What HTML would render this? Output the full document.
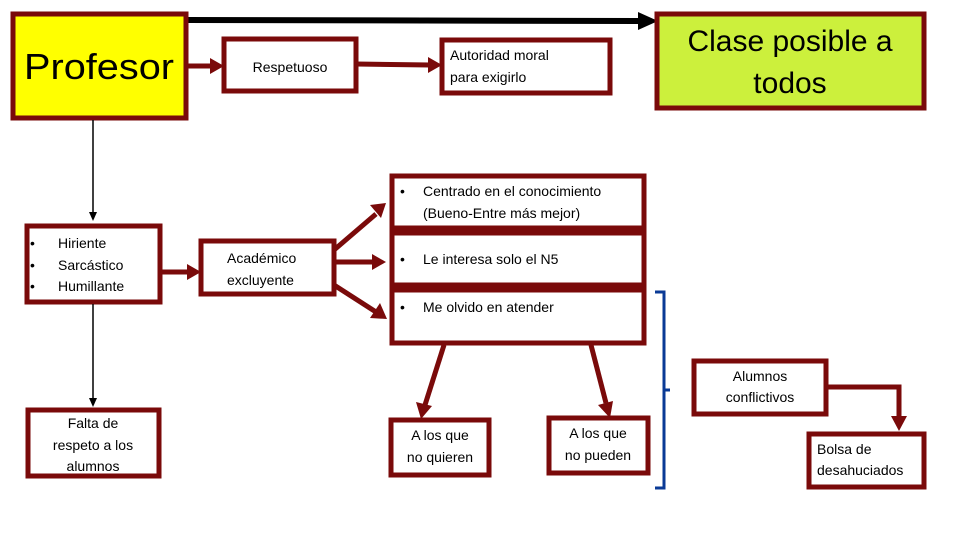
<!DOCTYPE html>
<html><head><meta charset="utf-8"><style>
body{margin:0;background:#fff;}
svg{display:block;font-family:"Liberation Sans",sans-serif;}
.b{fill:#fff;stroke:#7a0a0a;stroke-width:5;}
.a{stroke:#7a0a0a;stroke-width:5;fill:none;}
.h{fill:#7a0a0a;}
text{fill:#000;}
</style></head><body>
<svg width="960" height="540" viewBox="0 0 960 540">
<!-- top black arrow -->
<line x1="188" y1="20" x2="640" y2="21" stroke="#000" stroke-width="6"/>
<polygon points="638,12 658,21 638,30" fill="#000"/>
<!-- boxes -->
<rect x="13" y="14" width="173" height="104" fill="#ffff00" stroke="#7a0a0a" stroke-width="5"/>
<text x="99" y="79" font-size="36" text-anchor="middle" textLength="150" lengthAdjust="spacingAndGlyphs">Profesor</text>
<rect x="224" y="39" width="132" height="52" class="b"/>
<text x="290" y="72" font-size="14" text-anchor="middle">Respetuoso</text>
<rect x="442" y="40" width="168" height="53" class="b"/>
<text x="450" y="60" font-size="14">Autoridad moral</text>
<text x="450" y="82" font-size="14">para exigirlo</text>
<rect x="657" y="14" width="267" height="94" fill="#ccf03c" stroke="#7a0a0a" stroke-width="5"/>
<text x="790" y="51" font-size="30" text-anchor="middle">Clase posible a</text>
<text x="790" y="93" font-size="30" text-anchor="middle">todos</text>
<!-- Profesor arrows -->
<line x1="186" y1="66" x2="212" y2="66" class="a"/><polygon points="210,58 224,66 210,74" class="h"/>
<line x1="356" y1="64" x2="430" y2="65" class="a"/><polygon points="428,57 442,65 428,73" class="h"/>
<line x1="93" y1="120" x2="93" y2="214" stroke="#000" stroke-width="1.5"/><polygon points="89,212 93,221 97,212" fill="#000"/>
<!-- Hiriente -->
<rect x="27" y="226" width="133" height="76" class="b"/>
<text font-size="14"><tspan x="30" y="248">•</tspan><tspan x="58" y="248">Hiriente</tspan><tspan x="30" y="270">•</tspan><tspan x="58" y="270">Sarcástico</tspan><tspan x="30" y="291">•</tspan><tspan x="58" y="291">Humillante</tspan></text>
<line x1="160" y1="272" x2="188" y2="272" class="a"/><polygon points="187,264 201,272 187,280" class="h"/>
<line x1="93" y1="304" x2="93" y2="400" stroke="#000" stroke-width="1.5"/><polygon points="89,398 93,407 97,398" fill="#000"/>
<rect x="28" y="410" width="131" height="66" class="b"/>
<text font-size="14" text-anchor="middle"><tspan x="93" y="428">Falta de</tspan><tspan x="93" y="450">respeto a los</tspan><tspan x="93" y="471">alumnos</tspan></text>
<!-- Academico -->
<rect x="201" y="241" width="133" height="53" class="b"/>
<text font-size="14"><tspan x="227" y="263">Académico</tspan><tspan x="227" y="285">excluyente</tspan></text>
<line x1="334" y1="250" x2="376" y2="214" class="a"/><polygon points="370,205 386,203 381,218" class="h"/>
<line x1="334" y1="262" x2="374" y2="262" class="a"/><polygon points="372,254 386,262 372,270" class="h"/>
<line x1="334" y1="285" x2="376" y2="312" class="a"/><polygon points="380,303 387,319 370,318" class="h"/>
<!-- right boxes -->
<rect x="392" y="176" width="252" height="52" class="b"/>
<text font-size="14"><tspan x="400" y="196">•</tspan><tspan x="423" y="196">Centrado en el conocimiento</tspan><tspan x="423" y="218">(Bueno-Entre más mejor)</tspan></text>
<rect x="392" y="233" width="252" height="52" class="b"/>
<text font-size="14"><tspan x="400" y="264">•</tspan><tspan x="423" y="264">Le interesa solo el N5</tspan></text>
<rect x="392" y="290" width="252" height="53" class="b"/>
<text font-size="14"><tspan x="400" y="312">•</tspan><tspan x="423" y="312">Me olvido en atender</tspan></text>
<!-- down arrows -->
<line x1="444" y1="345" x2="425" y2="405" class="a"/><polygon points="416,402 421,419 432,406" class="h"/>
<line x1="591" y1="345" x2="606" y2="403" class="a"/><polygon points="598,405 610,418 613,401" class="h"/>
<rect x="391" y="420" width="98" height="55" class="b"/>
<text font-size="14" text-anchor="middle"><tspan x="440" y="440">A los que</tspan><tspan x="440" y="462">no quieren</tspan></text>
<rect x="549" y="418" width="99" height="55" class="b"/>
<text font-size="14" text-anchor="middle"><tspan x="598" y="438">A los que</tspan><tspan x="598" y="460">no pueden</tspan></text>
<!-- bracket -->
<path d="M655,292 L664,292 L664,488 L655,488 M664,390 L670,390" stroke="#0a3a96" stroke-width="3" fill="none"/>
<!-- Alumnos -->
<rect x="694" y="361" width="132" height="53" class="b"/>
<text font-size="14" text-anchor="middle"><tspan x="760" y="381">Alumnos</tspan><tspan x="760" y="402">conflictivos</tspan></text>
<path d="M826,387 L899,387 L899,418" class="a"/><polygon points="891,416 899,431 907,416" class="h"/>
<rect x="809" y="434" width="115" height="53" class="b"/>
<text font-size="14"><tspan x="817" y="454">Bolsa de</tspan><tspan x="817" y="475">desahuciados</tspan></text>
</svg>
</body></html>
